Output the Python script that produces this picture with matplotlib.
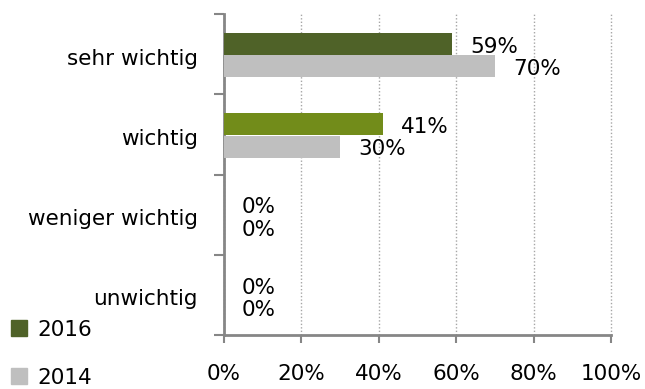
import matplotlib.pyplot as plt
from matplotlib.lines import Line2D
from matplotlib.ticker import FixedLocator

# --------------------------
# Data
# --------------------------
categories = ["sehr wichtig", "wichtig", "weniger wichtig", "unwichtig"]
values_2016 = [59, 41, 0, 0]
values_2014 = [70, 30, 0, 0]
x_ticks = [0, 20, 40, 60, 80, 100]
x_tick_labels = ["0%", "20%", "40%", "60%", "80%", "100%"]

colors_2016 = ["#4F6228", "#728C1A", "#728C1A", "#728C1A"]
color_2014 = "#BFBFBF"
axis_color = "#868686"

plt.rcParams["font.family"] = ["DejaVu Sans"]
FS = 15.5

# --------------------------
# Plot
# --------------------------
fig = plt.figure(figsize=(6.45, 3.89), dpi=100)
ax = fig.add_axes([0.3473, 0.1388, 0.6, 0.8252])

pos = list(range(len(categories)))
h = 0.275
pos_2016 = [p - 0.125 for p in pos]
pos_2014 = [p + 0.152 for p in pos]

ax.barh(pos_2016, values_2016, height=h, color=colors_2016, zorder=3)
ax.barh(pos_2014, values_2014, height=h, color=color_2014, zorder=3)

for y, v in zip(pos_2016, values_2016):
    ax.annotate(f"{v}%", (v, y), xytext=(13, -2), textcoords="offset points",
                ha="left", va="center", fontsize=FS)
for y, v in zip(pos_2014, values_2014):
    ax.annotate(f"{v}%", (v, y), xytext=(13, -2), textcoords="offset points",
                ha="left", va="center", fontsize=FS)

ax.set_xlim(0, 100)
ax.set_ylim(len(categories) - 0.5, -0.5)

# x axis
ax.set_xticks(x_ticks)
ax.set_xticklabels(x_tick_labels, fontsize=FS)
ax.tick_params(axis="x", length=6, width=1.5, color=axis_color, pad=15, direction="out")
ax.xaxis.grid(True, linestyle=(0, (1, 1.5)), color="#A6A6A6", linewidth=1, zorder=0)
for line in ax.get_xgridlines():
    line.set_clip_on(False)

# y axis: ticks at boundaries, labels at centers
ax.yaxis.set_major_locator(FixedLocator([p - 0.5 for p in pos] + [len(pos) - 0.5]))
ax.yaxis.set_major_formatter(plt.NullFormatter())
ax.yaxis.set_minor_locator(FixedLocator([p + 0.03 for p in pos]))
ax.set_yticklabels(categories, minor=True, fontsize=FS)
ax.tick_params(axis="y", which="major", length=7, width=1.5, color=axis_color)
ax.tick_params(axis="y", which="minor", length=0, pad=19)

for side in ["top", "right"]:
    ax.spines[side].set_visible(False)
for side in ["left", "bottom"]:
    ax.spines[side].set_color(axis_color)
    ax.spines[side].set_linewidth(2)

# legend
handles = [
    Line2D([], [], marker="s", linestyle="none", markersize=11, color=colors_2016[0]),
    Line2D([], [], marker="s", linestyle="none", markersize=11, color=color_2014),
]
fig.legend(handles, ["2016", "2014"], loc="upper left", bbox_to_anchor=(0.004, 0.2),
           frameon=False, fontsize=FS, handlelength=0.7, handletextpad=0.5,
           labelspacing=1.3, borderaxespad=0)

fig.savefig("out.png", dpi=100)
